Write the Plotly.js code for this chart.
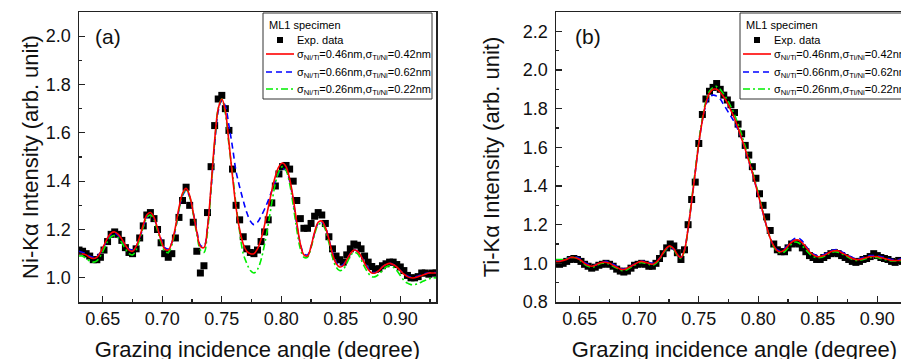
<!DOCTYPE html>
<html>
<head>
<meta charset="utf-8">
<script src="https://cdn.plot.ly/plotly-3.0.1.min.js"></script>
<style>
html,body{margin:0;padding:0;overflow:hidden;background:#fff;}
#chart{width:930px;height:362px;}
</style>
</head>
<body>
<div id="chart"></div>
<script>
// Grazing incidence angle (degree)
const angle = [0.630,0.633,0.636,0.639,0.642,0.645,0.648,0.651,0.654,0.657,
0.660,0.663,0.666,0.669,0.672,0.675,0.678,0.681,0.684,0.687,
0.690,0.693,0.696,0.699,0.702,0.705,0.708,0.711,0.714,0.717,
0.720,0.723,0.726,0.729,0.732,0.735,0.738,0.741,0.744,0.747,
0.750,0.753,0.756,0.759,0.762,0.765,0.768,0.771,0.774,0.777,
0.780,0.783,0.786,0.789,0.792,0.795,0.798,0.801,0.804,0.807,
0.810,0.813,0.816,0.819,0.822,0.825,0.828,0.831,0.834,0.837,
0.840,0.843,0.846,0.849,0.852,0.855,0.858,0.861,0.864,0.867,
0.870,0.873,0.876,0.879,0.882,0.885,0.888,0.891,0.894,0.897,
0.900,0.903,0.906,0.909,0.912,0.915,0.918,0.921,0.924,0.927,0.930];

// (a) Ni-Kα
const niExp = [1.115,1.11,1.10,1.09,1.075,1.075,1.085,1.115,1.15,1.18,
1.19,1.18,1.155,1.125,1.105,1.10,1.12,1.165,1.215,1.26,
1.27,1.245,1.20,1.145,1.10,1.085,1.10,1.165,1.25,1.32,
1.375,1.30,1.23,1.11,1.02,1.05,1.27,1.46,1.63,1.74,
1.755,1.70,1.61,1.45,1.30,1.24,1.17,1.12,1.105,1.10,
1.115,1.15,1.19,1.24,1.31,1.38,1.43,1.46,1.465,1.45,
1.40,1.32,1.245,1.205,1.205,1.225,1.255,1.27,1.26,1.225,
1.17,1.12,1.09,1.075,1.065,1.095,1.12,1.14,1.135,1.12,
1.09,1.065,1.047,1.035,1.038,1.05,1.058,1.065,1.065,1.055,
1.045,1.03,1.01,1.00,1.00,1.005,1.02,1.02,1.015,1.02,1.02];
const niFit046 = [1.10,1.10,1.095,1.085,1.08,1.085,1.105,1.135,1.165,1.185,
1.19,1.18,1.16,1.135,1.115,1.11,1.13,1.17,1.22,1.26,
1.27,1.25,1.205,1.155,1.12,1.115,1.145,1.21,1.29,1.35,
1.37,1.34,1.27,1.19,1.13,1.125,1.21,1.38,1.57,1.70,
1.74,1.69,1.56,1.42,1.29,1.20,1.14,1.11,1.10,1.10,
1.12,1.16,1.22,1.29,1.36,1.42,1.46,1.475,1.46,1.41,
1.33,1.23,1.14,1.095,1.09,1.13,1.19,1.23,1.235,1.21,
1.16,1.10,1.06,1.045,1.05,1.075,1.10,1.115,1.11,1.09,
1.06,1.035,1.02,1.02,1.03,1.045,1.055,1.06,1.055,1.045,
1.03,1.015,1.005,1.0,1.0,1.005,1.01,1.015,1.02,1.02,1.02];
const niFit066 = [1.11,1.105,1.10,1.09,1.085,1.09,1.105,1.13,1.16,1.18,
1.185,1.175,1.155,1.135,1.12,1.115,1.13,1.165,1.21,1.25,
1.26,1.245,1.205,1.16,1.125,1.12,1.145,1.20,1.28,1.34,
1.36,1.335,1.27,1.195,1.135,1.13,1.21,1.37,1.55,1.69,
1.735,1.71,1.63,1.54,1.44,1.376,1.32,1.27,1.235,1.22,
1.23,1.255,1.285,1.32,1.36,1.40,1.435,1.45,1.445,1.40,
1.32,1.22,1.14,1.10,1.095,1.13,1.185,1.225,1.23,1.21,
1.16,1.105,1.065,1.05,1.055,1.075,1.10,1.115,1.11,1.09,
1.065,1.04,1.025,1.022,1.03,1.045,1.055,1.06,1.055,1.045,
1.03,1.018,1.008,1.003,1.003,1.008,1.013,1.018,1.02,1.022,1.022];
const niFit026 = [1.09,1.09,1.08,1.07,1.065,1.07,1.09,1.12,1.15,1.17,
1.175,1.165,1.145,1.12,1.10,1.095,1.115,1.16,1.21,1.25,
1.26,1.24,1.195,1.145,1.11,1.105,1.135,1.20,1.28,1.345,
1.365,1.335,1.265,1.18,1.115,1.105,1.19,1.37,1.56,1.70,
1.74,1.68,1.55,1.43,1.30,1.19,1.10,1.06,1.03,1.02,
1.035,1.075,1.14,1.22,1.31,1.39,1.44,1.46,1.445,1.39,
1.30,1.20,1.12,1.085,1.085,1.125,1.18,1.22,1.225,1.20,
1.145,1.085,1.045,1.03,1.035,1.06,1.09,1.105,1.10,1.075,
1.045,1.02,1.005,1.005,1.015,1.03,1.045,1.05,1.045,1.03,
1.01,0.99,0.978,0.972,0.972,0.976,0.983,0.99,0.995,1.0,1.0];

// (b) Ti-Kα
const tiExp = [1.00,0.995,1.00,1.01,1.02,1.025,1.02,1.01,0.995,0.985,
0.975,0.98,0.99,0.995,1.0,0.995,0.985,0.97,0.96,0.955,
0.96,0.975,0.99,0.995,1.0,0.995,0.985,0.985,1.0,1.025,
1.05,1.08,1.10,1.09,1.055,1.02,1.07,1.20,1.33,1.42,
1.62,1.77,1.85,1.89,1.91,1.93,1.90,1.87,1.845,1.82,
1.78,1.72,1.67,1.61,1.56,1.50,1.44,1.36,1.30,1.24,
1.17,1.10,1.07,1.06,1.06,1.08,1.10,1.105,1.10,1.08,
1.06,1.04,1.03,1.02,1.02,1.03,1.04,1.05,1.055,1.05,
1.04,1.03,1.02,1.01,1.005,1.01,1.02,1.025,1.035,1.05,
1.04,1.03,1.025,1.02,1.01,1.005,1.015,1.01,1.0,1.005,1.0];
const tiFit046 = [1.01,1.01,1.015,1.02,1.03,1.03,1.025,1.015,1.0,0.99,
0.985,0.99,1.0,1.005,1.005,1.0,0.99,0.98,0.97,0.968,
0.975,0.985,0.995,1.005,1.01,1.005,1.0,0.995,1.005,1.025,
1.055,1.08,1.09,1.075,1.045,1.03,1.07,1.18,1.32,1.47,
1.62,1.74,1.83,1.88,1.90,1.90,1.885,1.86,1.83,1.79,
1.75,1.70,1.645,1.59,1.53,1.47,1.40,1.33,1.26,1.19,
1.13,1.09,1.065,1.06,1.07,1.09,1.11,1.12,1.12,1.105,
1.085,1.06,1.045,1.035,1.035,1.04,1.05,1.06,1.065,1.065,
1.055,1.045,1.035,1.025,1.02,1.02,1.025,1.03,1.035,1.035,
1.035,1.03,1.025,1.02,1.015,1.015,1.015,1.02,1.02,1.02,1.02];
const tiFit066 = [1.015,1.015,1.02,1.025,1.03,1.035,1.03,1.02,1.005,0.995,
0.99,0.99,1.0,1.005,1.01,1.005,0.995,0.985,0.975,0.97,
0.975,0.985,0.995,1.005,1.01,1.01,1.005,1.0,1.005,1.025,
1.05,1.075,1.085,1.07,1.045,1.03,1.07,1.18,1.32,1.47,
1.62,1.74,1.82,1.86,1.87,1.865,1.85,1.82,1.79,1.76,
1.73,1.69,1.645,1.59,1.53,1.47,1.40,1.33,1.26,1.19,
1.13,1.09,1.07,1.065,1.075,1.095,1.115,1.13,1.13,1.115,
1.09,1.065,1.05,1.04,1.04,1.045,1.055,1.065,1.07,1.07,
1.06,1.05,1.04,1.03,1.025,1.025,1.03,1.035,1.04,1.04,
1.04,1.035,1.03,1.025,1.02,1.02,1.02,1.025,1.025,1.025,1.025];
const tiFit026 = [1.02,1.02,1.02,1.025,1.03,1.03,1.025,1.01,0.995,0.985,
0.98,0.985,0.995,1.0,1.0,0.995,0.985,0.975,0.965,0.962,
0.968,0.98,0.99,1.0,1.005,1.0,0.995,0.99,1.0,1.02,
1.05,1.075,1.085,1.07,1.04,1.025,1.065,1.18,1.33,1.48,
1.63,1.75,1.84,1.89,1.91,1.915,1.90,1.875,1.845,1.81,
1.77,1.72,1.665,1.605,1.545,1.48,1.41,1.34,1.265,1.19,
1.13,1.085,1.06,1.055,1.06,1.08,1.10,1.11,1.105,1.09,
1.07,1.05,1.035,1.03,1.03,1.035,1.045,1.055,1.06,1.058,
1.05,1.04,1.03,1.02,1.015,1.015,1.02,1.025,1.03,1.03,
1.03,1.025,1.02,1.015,1.012,1.012,1.012,1.015,1.015,1.015,1.015];

const seriesNames = ['Exp. data',
  'σ<sub>Ni/Ti</sub>=0.46nm,σ<sub>Ti/Ni</sub>=0.42nm',
  'σ<sub>Ni/Ti</sub>=0.66nm,σ<sub>Ti/Ni</sub>=0.62nm',
  'σ<sub>Ni/Ti</sub>=0.26nm,σ<sub>Ti/Ni</sub>=0.22nm'];
const legendTitle = 'ML1 specimen';
const yTitles = ['Ni-Kα Intensity (arb. unit)', 'Ti-Kα Intensity (arb. unit)'];
const xTitle = 'Grazing incidence angle (degree)';
const panelLabels = ['(a)', '(b)'];

const FONT = 'Liberation Sans, Arial, sans-serif';
const STY = [
  {color: '#000'},
  {color: '#ff0000', dash: 'solid'},
  {color: '#0000ff', dash: '6px,4px'},
  {color: '#00ee00', dash: '7px,3px,2px,3px'}
];

function panelTraces(exp, f046, f066, f026, xa, ya) {
  return [
    {x: angle, y: exp, mode: 'markers', type: 'scatter', name: seriesNames[0],
     marker: {symbol: 'square', size: 7, color: STY[0].color}, xaxis: xa, yaxis: ya},
    {x: angle, y: f066, mode: 'lines', type: 'scatter', name: seriesNames[2],
     line: {color: STY[2].color, width: 1.6, dash: STY[2].dash, shape: 'spline'}, xaxis: xa, yaxis: ya},
    {x: angle, y: f026, mode: 'lines', type: 'scatter', name: seriesNames[3],
     line: {color: STY[3].color, width: 1.6, dash: STY[3].dash, shape: 'spline'}, xaxis: xa, yaxis: ya},
    {x: angle, y: f046, mode: 'lines', type: 'scatter', name: seriesNames[1],
     line: {color: STY[1].color, width: 1.6, shape: 'spline'}, xaxis: xa, yaxis: ya}
  ];
}

const data = [].concat(
  panelTraces(niExp, niFit046, niFit066, niFit026, 'x', 'y'),
  panelTraces(tiExp, tiFit046, tiFit066, tiFit026, 'x2', 'y2')
);

function xAxis(domain, anchor) {
  return {
    domain: domain, anchor: anchor, range: [0.63, 0.93],
    dtick: 0.05, tick0: 0, tickformat: '.2f',
    ticks: 'inside', ticklen: 6, tickwidth: 1.2, tickcolor: '#222',
    minor: {ticks: 'inside', ticklen: 3, dtick: 0.025, tick0: 0, tickcolor: '#222'},
    showline: true, linecolor: '#222', linewidth: 1.5, mirror: true,
    showgrid: false, zeroline: false,
    tickfont: {family: FONT, size: 18, color: '#111'},
    ticklabelstandoff: 0,
    title: {text: xTitle, font: {family: FONT, size: 22, color: '#111'}, standoff: 16}
  };
}
function yAxis(range, anchor, title, standoff) {
  return {
    domain: [0, 1], anchor: anchor, range: range,
    dtick: 0.2, tick0: 0, tickformat: '.1f',
    ticks: 'inside', ticklen: 6, tickwidth: 1.2, tickcolor: '#222',
    minor: {ticks: 'inside', ticklen: 3, dtick: 0.1, tick0: 0, tickcolor: '#222'},
    showline: true, linecolor: '#222', linewidth: 1.5, mirror: true,
    showgrid: false, zeroline: false,
    tickfont: {family: FONT, size: 18, color: '#111'},
    ticklabelstandoff: 3,
    title: {text: title, font: {family: FONT, size: 22, color: '#111'}, standoff: standoff}
  };
}

// pixel -> paper helpers (plot area: x 79..913, y 12..302)
const PX = p => (p - 79) / 834;
const PY = p => (302 - p) / 290;

function legendParts(left) {
  const shapes = [], ann = [];
  shapes.push({type: 'rect', xref: 'paper', yref: 'paper', x0: PX(left), x1: PX(left + 169),
    y0: PY(99), y1: PY(13), line: {color: '#333', width: 1}, fillcolor: '#fff', layer: 'above'});
  ann.push({text: legendTitle, xref: 'paper', yref: 'paper', x: PX(left + 4), y: PY(25),
    xanchor: 'left', yanchor: 'middle', showarrow: false, font: {family: FONT, size: 11, color: '#000'}});
  shapes.push({type: 'rect', xref: 'paper', yref: 'paper', x0: PX(left + 14), x1: PX(left + 20),
    y0: PY(43), y1: PY(37), line: {width: 0}, fillcolor: '#000', layer: 'above'});
  const rows = [40, 54, 72, 89];
  for (let i = 0; i < 4; i++) {
    if (i > 0) {
      shapes.push({type: 'line', xref: 'paper', yref: 'paper', x0: PX(left + 3), x1: PX(left + 31),
        y0: PY(rows[i]), y1: PY(rows[i]), line: {color: STY[i].color, width: 1.6, dash: STY[i].dash}, layer: 'above'});
    }
    ann.push({text: seriesNames[i], xref: 'paper', yref: 'paper', x: PX(left + 32), y: PY(rows[i] + (i > 0 ? 1 : 0)),
      xanchor: 'left', yanchor: 'middle', showarrow: false, font: {family: FONT, size: 11, color: '#000'}});
  }
  return {shapes, ann};
}
const legA = legendParts(263), legB = legendParts(740);

const layout = {
  width: 930, height: 362,
  margin: {l: 79, r: 17, t: 12, b: 60},
  paper_bgcolor: '#fff', plot_bgcolor: '#fff',
  font: {family: FONT, color: '#111'},
  showlegend: false,
  xaxis: xAxis([0, 357 / 834], 'y'),
  yaxis: yAxis([0.9, 2.1], 'x', yTitles[0], 1),
  xaxis2: xAxis([477 / 834, 1], 'y2'),
  yaxis2: yAxis([0.8, 2.3], 'x2', yTitles[1], 17),
  shapes: legA.shapes.concat(legB.shapes),
  annotations: [
    {text: panelLabels[0], xref: 'x domain', yref: 'y domain', x: 29 / 357, y: (302 - 37) / 290,
     xanchor: 'center', yanchor: 'middle', showarrow: false, font: {family: FONT, size: 21, color: '#111'}},
    {text: panelLabels[1], xref: 'x2 domain', yref: 'y2 domain', x: 32 / 357, y: (302 - 37) / 290,
     xanchor: 'center', yanchor: 'middle', showarrow: false, font: {family: FONT, size: 21, color: '#111'}}
  ].concat(legA.ann, legB.ann)
};

Plotly.newPlot('chart', data, layout, {staticPlot: true, displayModeBar: false});
</script>
</body>
</html>
